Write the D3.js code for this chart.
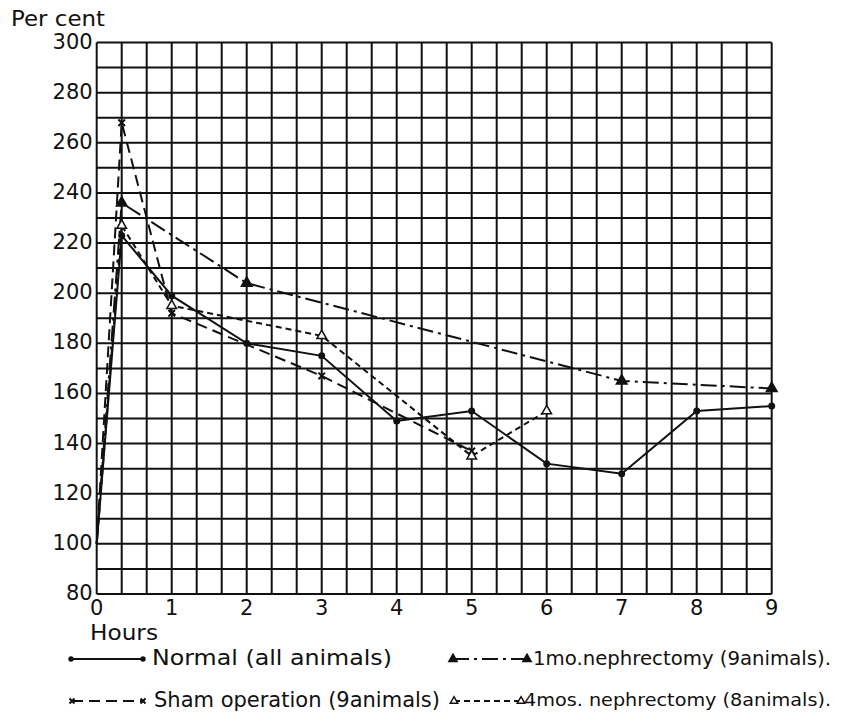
<!DOCTYPE html>
<html>
<head>
<meta charset="utf-8">
<script src="https://cdn.jsdelivr.net/npm/d3@7"></script>
<style>
  body { margin: 0; background: #fff; }
  svg { display: block; }
  text { font-family: "DejaVu Sans", sans-serif; fill: #111; }
</style>
</head>
<body>
<div id="chart"></div>
<script>
//Data
const hoursNormal = [0, 1/3, 1, 2, 3, 4, 5, 6, 7, 8, 9];
const valuesNormal = [100, 223, 199, 180, 175, 149, 153, 132, 128, 153, 155];
const hoursOneMo = [0, 1/3, 2, 7, 9];
const valuesOneMo = [100, 236, 204, 165, 162];
const hoursSham = [0, 1/3, 1, 3, 5];
const valuesSham = [100, 268, 192, 167, 137];
const hoursFourMo = [0, 1/3, 1, 3, 5, 6];
const valuesFourMo = [100, 227, 195, 183, 135, 153];
const xTicks = [0, 1, 2, 3, 4, 5, 6, 7, 8, 9];
const yTicks = [80, 100, 120, 140, 160, 180, 200, 220, 240, 260, 280, 300];
const legendLabels = ['Normal (all animals)', '1mo.nephrectomy (9animals).', 'Sham operation (9animals)', '4mos. nephrectomy (8animals).'];

const W = 843, H = 721;
const margin = { top: 42.5, left: 96.7, right: W - 771.7, bottom: H - 594 };
const innerW = W - margin.left - margin.right;
const innerH = H - margin.top - margin.bottom;

const svg = d3.select('#chart').append('svg').attr('width', W).attr('height', H);
const x = d3.scaleLinear().domain([0, 9]).range([margin.left, margin.left + innerW]);
const y = d3.scaleLinear().domain([80, 300]).range([margin.top + innerH, margin.top]);

// grid: 3 columns per hour, one row per 10 per cent
const grid = svg.append('g').attr('stroke', '#111').attr('stroke-width', 2);
d3.range(0, 9.001, 1/3).forEach(h => {
  grid.append('line').attr('x1', x(h)).attr('x2', x(h)).attr('y1', y(80)).attr('y2', y(300));
});
d3.range(80, 300.1, 10).forEach(v => {
  grid.append('line').attr('x1', x(0)).attr('x2', x(9)).attr('y1', y(v)).attr('y2', y(v));
});

// axes labels
svg.append('g').selectAll('text').data(yTicks).join('text')
  .attr('x', x(0) - 4).attr('y', d => y(d))
  .attr('text-anchor', 'end').attr('dominant-baseline', 'middle')
  .attr('font-size', 21).text(d => d);
svg.append('g').selectAll('text').data(xTicks).join('text')
  .attr('x', d => x(d)).attr('y', y(80) + 15)
  .attr('text-anchor', 'middle').attr('dominant-baseline', 'middle')
  .attr('font-size', 21).text(d => d);
svg.append('text').attr('x', 11).attr('y', 26).attr('font-size', 22)
  .attr('textLength', 94).attr('lengthAdjust', 'spacingAndGlyphs').text('Per cent');
svg.append('text').attr('x', 90).attr('y', 640).attr('font-size', 22)
  .attr('textLength', 68).attr('lengthAdjust', 'spacingAndGlyphs').text('Hours');

// markers
const drawMarker = (g, type, cx, cy, k = 1) => {
  if (type === 'dot') {
    g.append('circle').attr('cx', cx).attr('cy', cy).attr('r', 3.5 * Math.sqrt(k)).attr('fill', '#111');
  } else if (type === 'tri' || type === 'otri') {
    g.append('path').attr('d', d3.symbol(d3.symbolTriangle, (type === 'tri' ? 50 : 40) * k)())
      .attr('transform', `translate(${cx},${cy})`)
      .attr('fill', type === 'tri' ? '#111' : '#fff').attr('stroke', '#111').attr('stroke-width', 1.5);
  } else if (type === 'x') {
    g.append('path').attr('d', d3.symbol(d3.symbolX, 30 * k)())
      .attr('transform', `translate(${cx},${cy})`)
      .attr('stroke', '#111').attr('stroke-width', 2);
  }
};

const series = [
  { hours: hoursNormal, values: valuesNormal, dash: null, marker: 'dot' },
  { hours: hoursOneMo, values: valuesOneMo, dash: '16,5,3,5', marker: 'tri' },
  { hours: hoursSham, values: valuesSham, dash: '11,6', marker: 'x' },
  { hours: hoursFourMo, values: valuesFourMo, dash: '6,4', marker: 'otri' }
];

const line = d3.line().x(d => x(d[0])).y(d => y(d[1]));
series.forEach(s => {
  const pts = s.hours.map((h, i) => [h, s.values[i]]);
  const g = svg.append('g');
  g.append('path').attr('d', line(pts)).attr('fill', 'none')
    .attr('stroke', '#111').attr('stroke-width', 2)
    .attr('stroke-dasharray', s.dash);
  pts.slice(1).forEach(p => drawMarker(g, s.marker, x(p[0]), y(p[1])));
});

// legend: sample start, sample end, text start, text width, row y, font size
const legendPos = [
  [71, 143, 152, 240, 659, 21],
  [453, 527, 533, 298, 659, 19],
  [72, 143, 154, 286, 701, 21],
  [454, 521, 524, 307, 701, 18.5]
];
legendLabels.forEach((lab, i) => {
  const s = series[i];
  const [x1, x2, tx, tw, ly, fs] = legendPos[i];
  const g = svg.append('g');
  g.append('line').attr('x1', x1).attr('x2', x2).attr('y1', ly).attr('y2', ly)
    .attr('stroke', '#111').attr('stroke-width', 1.8).attr('stroke-dasharray', s.dash);
  drawMarker(g, s.marker, x1, ly, 0.6);
  drawMarker(g, s.marker, x2, ly, 0.6);
  g.append('text').attr('x', tx).attr('y', ly).attr('dominant-baseline', 'middle')
    .attr('font-size', fs).attr('textLength', tw).attr('lengthAdjust', 'spacingAndGlyphs').text(lab);
});
</script>
</body>
</html>
